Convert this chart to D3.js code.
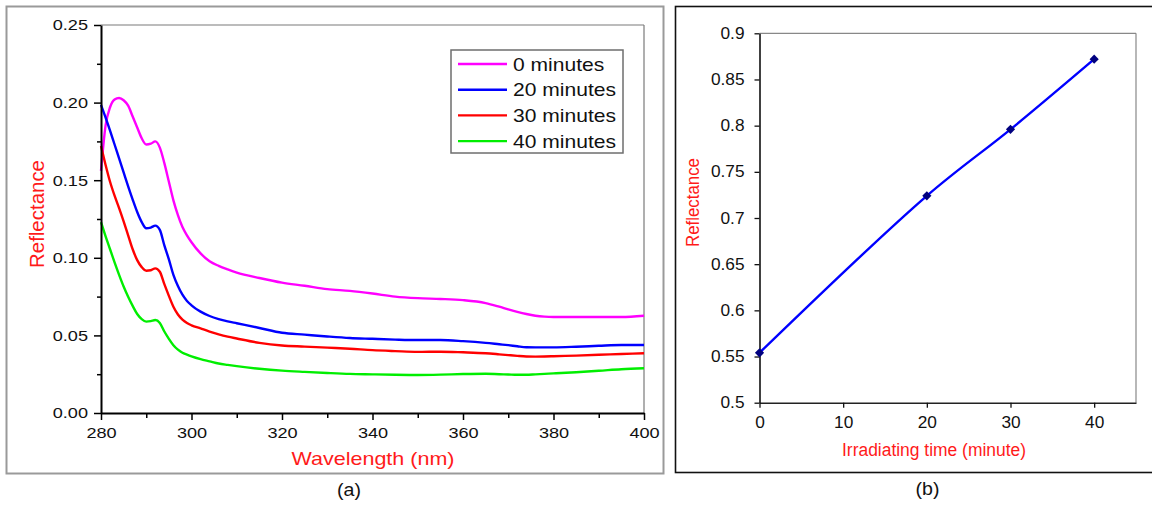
<!DOCTYPE html>
<html>
<head>
<meta charset="utf-8">
<script src="https://cdn.jsdelivr.net/npm/d3@7"></script>
<style>
  html, body { margin: 0; padding: 0; background: #fff; }
  svg { display: block; font-family: "Liberation Sans", Arial, sans-serif; }
</style>
</head>
<body>
<svg id="chart" width="1152" height="505"></svg>
<script>
// ---------------- DATA ----------------
// Panel (a): reflectance spectra
const wavelengths = [280,281,282,283,284,285,286,287,288,289,290,291,292,293,294,295,296,297,298,299,300,302,304,306,308,310,315,320,325,330,335,340,345,350,355,360,365,368,370,372,374,376,378,380,385,390,395,400];
const refl0min  = [0.156,0.185,0.197,0.202,0.203,0.2015,0.198,0.191,0.184,0.177,0.173,0.1735,0.175,0.171,0.161,0.149,0.137,0.1275,0.1198,0.1145,0.110,0.1028,0.0978,0.0948,0.0925,0.0905,0.087,0.084,0.082,0.0798,0.0787,0.077,0.075,0.074,0.0735,0.0727,0.0708,0.0685,0.0668,0.0652,0.0638,0.0627,0.0621,0.0619,0.0619,0.0619,0.0619,0.0627];
const refl20min = [0.1985,0.1905,0.182,0.173,0.164,0.155,0.146,0.1375,0.1295,0.123,0.119,0.1195,0.1207,0.118,0.108,0.099,0.089,0.0818,0.0762,0.0722,0.0694,0.0653,0.0625,0.0605,0.059,0.0578,0.0548,0.0517,0.0505,0.0493,0.0483,0.0478,0.0473,0.047,0.047,0.0463,0.0452,0.0443,0.0437,0.0430,0.0424,0.0423,0.0423,0.0423,0.0427,0.0433,0.0438,0.0438];
const refl30min = [0.172,0.160,0.149,0.140,0.132,0.1235,0.1145,0.1055,0.0985,0.094,0.0917,0.092,0.0932,0.091,0.083,0.0755,0.0685,0.0635,0.0602,0.058,0.0565,0.0545,0.0525,0.0507,0.0492,0.048,0.0452,0.0435,0.0428,0.0421,0.0414,0.0405,0.0399,0.0394,0.0395,0.0391,0.0385,0.0378,0.0373,0.0368,0.0364,0.0363,0.0364,0.0366,0.037,0.0375,0.038,0.0385];
const refl40min = [0.123,0.114,0.1055,0.097,0.089,0.0815,0.0749,0.069,0.0638,0.0605,0.0589,0.0592,0.0599,0.058,0.0525,0.0478,0.0437,0.0408,0.0388,0.0376,0.0365,0.0347,0.0333,0.0319,0.031,0.0302,0.0285,0.0273,0.0265,0.0258,0.0252,0.0249,0.0246,0.0245,0.0247,0.0251,0.0253,0.025,0.0248,0.0246,0.0246,0.0249,0.0252,0.0255,0.0263,0.0272,0.0282,0.0288];
const seriesNames = ["0 minutes","20 minutes","30 minutes","40 minutes"];
const seriesValues = [refl0min, refl20min, refl30min, refl40min];
const xTicksA = [280,300,320,340,360,380,400];
const yTicksA = [0,0.05,0.10,0.15,0.20,0.25];

// Panel (b): reflectance vs irradiating time
const times = [0,20,30,40];
const reflectanceB = [0.554,0.724,0.796,0.872];
const xTicksB = [0,10,20,30,40];
const yTicksB = [0.5,0.55,0.6,0.65,0.7,0.75,0.8,0.85,0.9];

// ---------------- STYLE ----------------
const seriesColors = ["#ff00ff","#0000ff","#ff0000","#00ee00"];
const titleRed = "#ff1a1a";
const textDark = "#111";

const svg = d3.select("#chart");
svg.append("rect").attr("width",1152).attr("height",505).attr("fill","#fff");

function stretchText(sel, k) {
  sel.each(function() {
    const t = d3.select(this);
    const x = +(t.attr("x") || 0);
    t.attr("x", x / k).attr("transform", `scale(${k},1)`);
  });
}

// ======== PANEL (a) ========
svg.append("rect").attr("x",6.5).attr("y",6.5).attr("width",657).attr("height",467)
  .attr("fill","none").attr("stroke","#9a9a9a").attr("stroke-width",2);

const xA = d3.scaleLinear().domain([280,400]).range([101,644]);
const yA = d3.scaleLinear().domain([0,0.25]).range([413,25]);

svg.append("line").attr("x1",101).attr("x2",644).attr("y1",25).attr("y2",25).attr("stroke","#7a7a7a").attr("stroke-width",1.2);
svg.append("line").attr("x1",644).attr("x2",644).attr("y1",25).attr("y2",413).attr("stroke","#7a7a7a").attr("stroke-width",1.2);

const lineA = d3.line().x(d=>xA(d[0])).y(d=>yA(d[1])).curve(d3.curveMonotoneX);
const gA = svg.append("g");
seriesValues.forEach((vals,i) => {
  gA.append("path")
    .datum(wavelengths.map((w,j)=>[w, vals[j]]))
    .attr("d", lineA).attr("fill","none")
    .attr("stroke", seriesColors[i]).attr("stroke-width",2.4).attr("stroke-linejoin","round");
});

// minor ticks
svg.append("g").attr("transform","translate(101,0)")
  .call(d3.axisLeft(yA).tickValues(d3.range(0.025,0.25,0.05)).tickSize(4).tickFormat(""))
  .call(g=>g.select(".domain").remove())
  .call(g=>g.selectAll("line").attr("stroke","#000").attr("stroke-width",1.5));
svg.append("g").attr("transform","translate(0,413)")
  .call(d3.axisBottom(xA).tickValues(d3.range(290,400,20)).tickSize(5).tickFormat(""))
  .call(g=>g.select(".domain").remove())
  .call(g=>g.selectAll("line").attr("stroke","#000").attr("stroke-width",1.5));

const yAxisA = svg.append("g").attr("transform","translate(101,0)")
  .call(d3.axisLeft(yA).tickValues(yTicksA).tickFormat(d3.format(".2f")).tickSize(7).tickPadding(6).tickSizeOuter(0));
yAxisA.select(".domain").attr("stroke","#000").attr("stroke-width",2);
yAxisA.selectAll("line").attr("stroke","#000").attr("stroke-width",1.5);
yAxisA.selectAll("text").attr("font-size",15.5).attr("fill",textDark).attr("font-family",null);
stretchText(yAxisA.selectAll("text"), 1.17);

const xAxisA = svg.append("g").attr("transform","translate(0,413)")
  .call(d3.axisBottom(xA).tickValues(xTicksA).tickFormat(d3.format("d")).tickSize(7).tickPadding(7).tickSizeOuter(0));
xAxisA.select(".domain").attr("stroke","#000").attr("stroke-width",2);
xAxisA.selectAll("line").attr("stroke","#000").attr("stroke-width",1.5);
xAxisA.selectAll("text").attr("font-size",15.5).attr("fill",textDark).attr("font-family",null);
stretchText(xAxisA.selectAll("text"), 1.17);

svg.append("text").attr("x",373).attr("y",465).attr("text-anchor","middle")
  .attr("font-size",18.5).attr("fill",titleRed)
  .attr("textLength",163).attr("lengthAdjust","spacingAndGlyphs")
  .text("Wavelength (nm)");
svg.append("text").attr("transform","translate(44,214) rotate(-90)").attr("text-anchor","middle")
  .attr("font-size",19.5).attr("fill",titleRed)
  .attr("textLength",108).attr("lengthAdjust","spacingAndGlyphs")
  .text("Reflectance");

// legend
const leg = svg.append("g");
leg.append("rect").attr("x",451).attr("y",50).attr("width",172).attr("height",103)
  .attr("fill","#fff").attr("stroke","#6e6e6e").attr("stroke-width",1.5);
seriesNames.forEach((name,i) => {
  const cy = 64 + i*25.7;
  leg.append("line").attr("x1",458).attr("x2",507).attr("y1",cy).attr("y2",cy)
    .attr("stroke",seriesColors[i]).attr("stroke-width",2.4);
  const t = leg.append("text").attr("x",513).attr("y",cy+6.8).attr("font-size",18).attr("fill",textDark).text(name);
  stretchText(t, 1.17);
});

const capA = svg.append("text").attr("x",349).attr("y",496).attr("text-anchor","middle").attr("font-size",17.5).attr("fill",textDark).text("(a)");
stretchText(capA, 1.12);

// ======== PANEL (b) ========
svg.append("rect").attr("x",675.5).attr("y",6.5).attr("width",490).attr("height",466)
  .attr("fill","none").attr("stroke","#111").attr("stroke-width",1.6);

const xB = d3.scaleLinear().domain([0,45]).range([759.5,1136]);
const yB = d3.scaleLinear().domain([0.5,0.9]).range([402.7,33.3]);

svg.append("line").attr("x1",759.5).attr("x2",1136).attr("y1",33.3).attr("y2",33.3).attr("stroke","#888").attr("stroke-width",1.2);
svg.append("line").attr("x1",1136).attr("x2",1136).attr("y1",33.3).attr("y2",402.7).attr("stroke","#888").attr("stroke-width",1.2);

const yAxisB = svg.append("g").attr("transform","translate(759.5,0)")
  .call(d3.axisLeft(yB).tickValues(yTicksB).tickFormat(d=>String(+d.toFixed(2))).tickSize(5).tickPadding(10).tickSizeOuter(0));
yAxisB.select(".domain").attr("stroke","#111").attr("stroke-width",1.6);
yAxisB.selectAll("line").attr("stroke","#111").attr("stroke-width",1.3);
yAxisB.selectAll("text").attr("font-size",16).attr("fill",textDark).attr("font-family",null);
stretchText(yAxisB.selectAll("text"), 1.08);

const xAxisB = svg.append("g").attr("transform","translate(0,402.7)")
  .call(d3.axisBottom(xB).tickValues(xTicksB).tickFormat(d3.format("d")).tickSize(5).tickPadding(9).tickSizeOuter(0));
xAxisB.select(".domain").attr("stroke","#222").attr("stroke-width",1.6);
xAxisB.selectAll("line").attr("stroke","#111").attr("stroke-width",1.3);
xAxisB.selectAll("text").attr("font-size",16).attr("fill",textDark).attr("font-family",null);
stretchText(xAxisB.selectAll("text"), 1.08);

const lineB = d3.line().x((d,i)=>xB(times[i])).y(d=>yB(d)).curve(d3.curveCatmullRom.alpha(0.5));
svg.append("path").datum(reflectanceB).attr("d",lineB).attr("fill","none")
  .attr("stroke","#0000ff").attr("stroke-width",2.4);
svg.append("g").selectAll("path").data(reflectanceB).join("path")
  .attr("transform",(d,i)=>`translate(${xB(times[i])},${yB(d)}) rotate(45)`)
  .attr("d", d3.symbol(d3.symbolSquare, 42))
  .attr("fill","#000080");

svg.append("text").attr("x",934).attr("y",456).attr("text-anchor","middle")
  .attr("font-size",18).attr("fill",titleRed)
  .attr("textLength",184).attr("lengthAdjust","spacingAndGlyphs")
  .text("Irradiating time (minute)");
svg.append("text").attr("transform","translate(699,202.5) rotate(-90)").attr("text-anchor","middle")
  .attr("font-size",18).attr("fill",titleRed)
  .attr("textLength",89).attr("lengthAdjust","spacingAndGlyphs")
  .text("Reflectance");

const capB = svg.append("text").attr("x",927.5).attr("y",495).attr("text-anchor","middle").attr("font-size",17.5).attr("fill",textDark).text("(b)");
stretchText(capB, 1.12);
</script>
</body>
</html>
